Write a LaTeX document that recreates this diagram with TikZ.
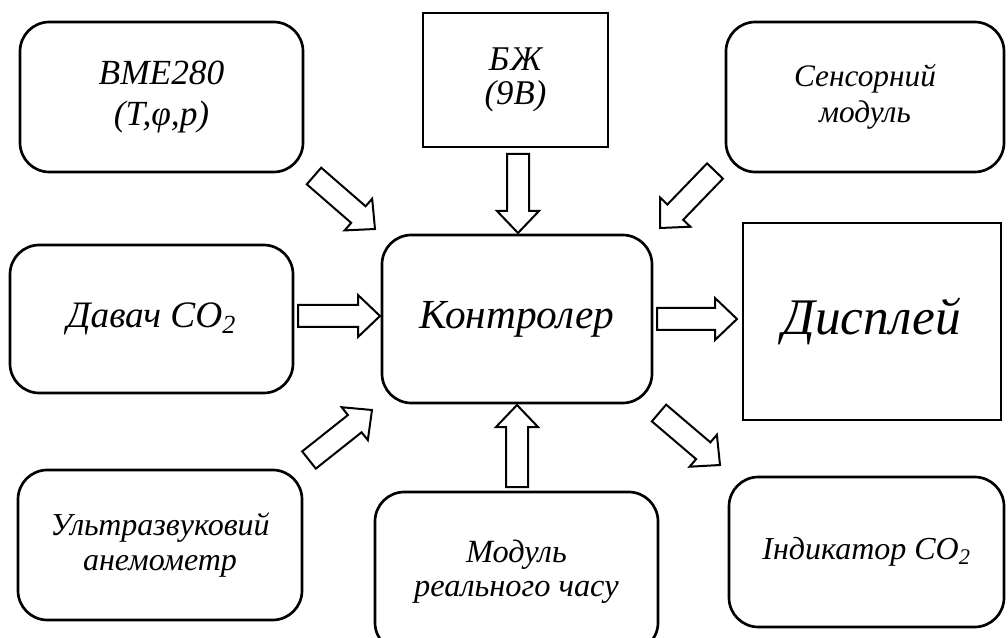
\documentclass[tikz,border=0pt]{standalone}
\usepackage{fontspec}
\setmainfont{Liberation Serif}
\usetikzlibrary{calc}
\tikzset{
  box/.style={draw=black, line width=2pt, rounded corners=22pt, align=center, inner sep=0pt},
  sqbox/.style={draw=black, line width=2pt, align=center, inner sep=0pt},
  arrowline/.style={draw=black, line width=1.5pt, fill=white, line join=miter},
}
\newcommand\blockarrow[3]{%
  \coordinate (#3c) at ($(#2)!16.5pt!(#1)$);
  \draw[arrowline] ($(#1)!8.25pt!90:(#2)$) -- ($(#3c)!8.25pt!90:(#2)$)
    -- ($(#3c)!15.75pt!90:(#2)$) -- (#2) -- ($(#3c)!15.75pt!-90:(#2)$)
    -- ($(#3c)!8.25pt!-90:(#2)$) -- ($(#1)!8.25pt!-90:(#2)$) -- cycle;
}
\newcommand\fBme{\fontsize{26.5}{31}\selectfont\itshape}
\newcommand\fBzh{\fontsize{26}{25.5}\selectfont\itshape}
\newcommand\fSens{\fontsize{23.5}{27}\selectfont\itshape}
\newcommand\fDav{\fontsize{28}{32}\selectfont\itshape}
\newcommand\fCtl{\fontsize{31}{36}\selectfont\itshape}
\newcommand\fDisp{\fontsize{38.5}{42}\selectfont\itshape}
\newcommand\fUlt{\fontsize{24}{26}\selectfont\itshape}
\newcommand\fMod{\fontsize{24.3}{25.5}\selectfont\itshape}
\newcommand\fInd{\fontsize{24}{28}\selectfont\itshape}
\begin{document}
\begin{tikzpicture}[x=0.75pt, y=-0.75pt]
\useasboundingbox (0,0) rectangle (1008,638);
\clip (0,0) rectangle (1008,638);
% boxes
\node[box, font=\fBme, minimum width=212.25pt, minimum height=112.5pt] (bme) at (161.5,97) {BME280\\(T,φ,p)};
\node[sqbox, font=\fBzh, minimum width=138.75pt, minimum height=100.5pt] (bzh) at (515.5,80) {БЖ\\(9В)};
\node[box, font=\fSens, minimum width=208.5pt, minimum height=112.5pt] (sens) at (865,97) {Сенсорний\\модуль};
\node[box, font=\fDav, minimum width=212.25pt, minimum height=111pt] (dav) at (151.5,319) {Давач CO\textsubscript{2}};
\node[box, font=\fCtl, minimum width=202.5pt, minimum height=126pt] (ctl) at (517,319) {Контролер};
\node[sqbox, font=\fDisp, minimum width=193.5pt, minimum height=147.75pt] (disp) at (872,321.5) {Дисплей};
\node[box, font=\fUlt, minimum width=213pt, minimum height=112.5pt] (ult) at (160,545) {Ультразвуковий\\анемометр};
\node[box, font=\fMod, minimum width=212.25pt, minimum height=120pt] (mod) at (516.5,572) {Модуль\\реального часу};
\node[box, font=\fInd, minimum width=206.25pt, minimum height=112.5pt] (ind) at (866.5,552) {Індикатор CO\textsubscript{2}};
% arrow end points
\coordinate (a1t) at (314,176); \coordinate (a1h) at (375,229);
\coordinate (a2t) at (518,154); \coordinate (a2h) at (518,233);
\coordinate (a3t) at (715,171); \coordinate (a3h) at (660,228);
\coordinate (a4t) at (298,316); \coordinate (a4h) at (380,316);
\coordinate (a5t) at (657,319); \coordinate (a5h) at (737,319);
\coordinate (a6t) at (309,460); \coordinate (a6h) at (372,410);
\coordinate (a7t) at (517,487); \coordinate (a7h) at (517,405);
\coordinate (a8t) at (659,413); \coordinate (a8h) at (720,465);
\blockarrow{a1t}{a1h}{a1}
\blockarrow{a2t}{a2h}{a2}
\blockarrow{a3t}{a3h}{a3}
\blockarrow{a4t}{a4h}{a4}
\blockarrow{a5t}{a5h}{a5}
\blockarrow{a6t}{a6h}{a6}
\blockarrow{a7t}{a7h}{a7}
\blockarrow{a8t}{a8h}{a8}
\end{tikzpicture}
\end{document}
